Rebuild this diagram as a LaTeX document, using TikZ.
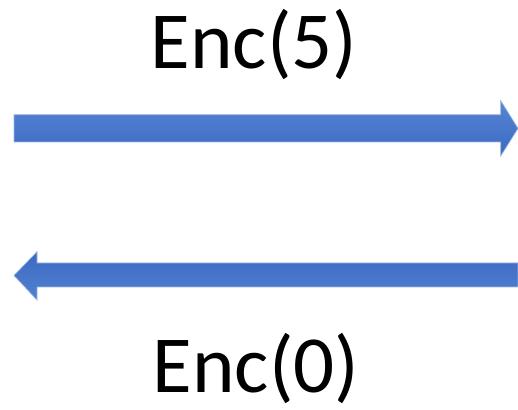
\documentclass[tikz,border=0pt]{standalone}
\usepackage{fontspec}
\setmainfont{Carlito}
\definecolor{arrowlight}{HTML}{5686D6}
\definecolor{arrowdark}{HTML}{3B69C1}
\definecolor{arrowedge}{HTML}{9DB4E0}
\tikzset{
  blockarrow/.style={draw=arrowedge, line width=0.7pt, line join=miter},
  label/.style={anchor=base, inner sep=0pt, font=\fontsize{81}{85}\selectfont}
}
\begin{document}
\begin{tikzpicture}[x=1pt,y=1pt]
  \useasboundingbox (0,0) rectangle (518,409);
  % forward message
  \node[label] (enc5) at (254,340) {Enc(5)};
  \path[blockarrow, top color=arrowlight, bottom color=arrowdark]
    (14,294.3) -- (500.7,294.3) -- (500.7,308.3) -- (518,280.6)
    -- (500.7,253) -- (500.7,267) -- (14,267) -- cycle;
  % reply message
  \path[blockarrow, top color=arrowdark, bottom color=arrowlight!85!arrowdark]
    (518,146) -- (37,146) -- (37,157.3) -- (14,133.5)
    -- (37,109) -- (37,122) -- (518,122) -- cycle;
  \node[label] (enc0) at (256,16.3) {Enc(0)};
\end{tikzpicture}
\end{document}
